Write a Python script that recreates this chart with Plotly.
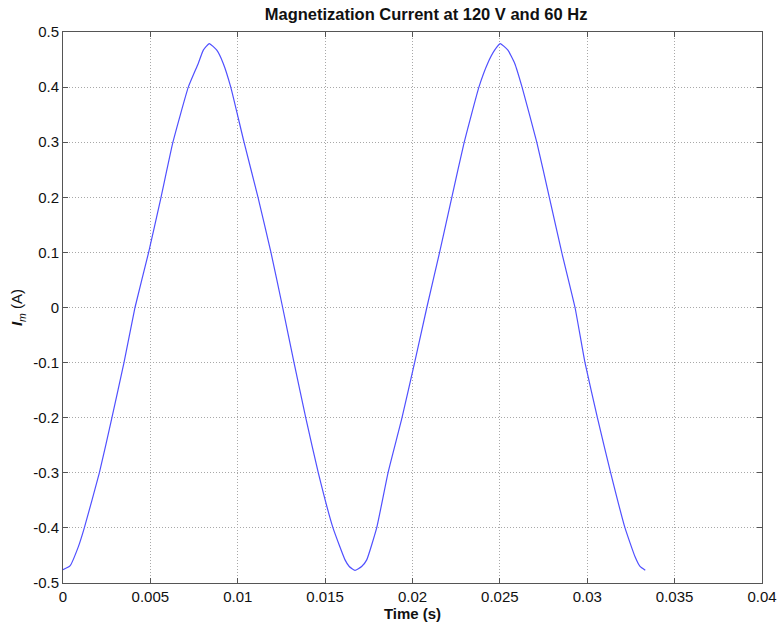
import plotly.graph_objects as go

time_s = [0.0, 0.0004, 0.00088, 0.00122, 0.00208, 0.0028, 0.00349, 0.00412, 0.0049,
          0.00561, 0.00629, 0.00717, 0.00774, 0.00803, 0.00837, 0.0088, 0.00917, 0.0096,
          0.01036, 0.01116, 0.0119, 0.01257, 0.01322, 0.01389, 0.01461, 0.01545, 0.01614,
          0.01638, 0.01671, 0.01709, 0.01738, 0.01795, 0.0186, 0.0194, 0.02012, 0.02082,
          0.02155, 0.02225, 0.02296, 0.0238, 0.0243, 0.0247, 0.02502, 0.02546, 0.02585,
          0.02627, 0.02711, 0.02783, 0.02854, 0.0293, 0.02987, 0.03058, 0.03134, 0.03216,
          0.03273, 0.03302, 0.03332]
current_a = [-0.476, -0.469, -0.434, -0.40, -0.30, -0.20, -0.10, 0.00, 0.10,
             0.20, 0.30, 0.40, 0.443, 0.467, 0.479, 0.467, 0.443, 0.40,
             0.30, 0.20, 0.10, 0.00, -0.10, -0.20, -0.30, -0.40, -0.458,
             -0.470, -0.477, -0.470, -0.458, -0.40, -0.30, -0.20, -0.10, 0.00,
             0.10, 0.20, 0.30, 0.40, 0.443, 0.467, 0.479, 0.467, 0.443,
             0.40, 0.30, 0.20, 0.10, 0.00, -0.10, -0.20, -0.30, -0.40,
             -0.452, -0.470, -0.477]

x_ticks = [0, 0.005, 0.01, 0.015, 0.02, 0.025, 0.03, 0.035, 0.04]
x_labels = ["0", "0.005", "0.01", "0.015", "0.02", "0.025", "0.03", "0.035", "0.04"]
y_ticks = [-0.5, -0.4, -0.3, -0.2, -0.1, 0, 0.1, 0.2, 0.3, 0.4, 0.5]
y_labels = ["-0.5", "-0.4", "-0.3", "-0.2", "-0.1", "0", "0.1", "0.2", "0.3", "0.4", "0.5"]

FONT = "Liberation Sans, Arial, sans-serif"

fig = go.Figure()
fig.add_trace(go.Scatter(x=time_s, y=current_a, mode="lines",
                         line=dict(color="#5050ff", width=1.2, shape="spline", smoothing=0.4),
                         showlegend=False))

axis_common = dict(
    showline=True, linecolor="#555555", linewidth=1, mirror="ticks",
    ticks="inside", ticklen=5, tickcolor="#555555",
    showgrid=True, gridcolor="#a8a8a8", griddash="1px,2px", gridwidth=1,
    zeroline=False, automargin=False,
    tickfont=dict(family=FONT, size=15, color="#111111"),
)

fig.update_xaxes(range=[0, 0.04], tickvals=x_ticks, ticktext=x_labels,
                 title=dict(text="<b>Time (s)</b>", standoff=4,
                            font=dict(family=FONT, size=15, color="#111111")),
                 **axis_common)
fig.update_yaxes(range=[-0.5, 0.5], tickvals=y_ticks, ticktext=y_labels,
                 title=dict(text="<b><i>I</i></b><sub><i>m</i></sub> (A)", standoff=6,
                            font=dict(family=FONT, size=15, color="#111111")),
                 **axis_common)

fig.update_layout(
    width=779, height=626,
    margin=dict(l=63, r=17, t=32, b=43),
    paper_bgcolor="white", plot_bgcolor="white",
    title=dict(text="<b>Magnetization Current at 120 V and 60 Hz</b>",
               x=0.547, xanchor="center", yref="container", y=1 - 14 / 626, yanchor="middle",
               font=dict(family=FONT, size=16.5, color="#111111")),
)

fig.write_html(
    "out.html",
    config={"displayModeBar": False},
    post_script="document.body.style.margin='0';document.documentElement.style.overflow='hidden';document.body.style.overflow='hidden';",
)
